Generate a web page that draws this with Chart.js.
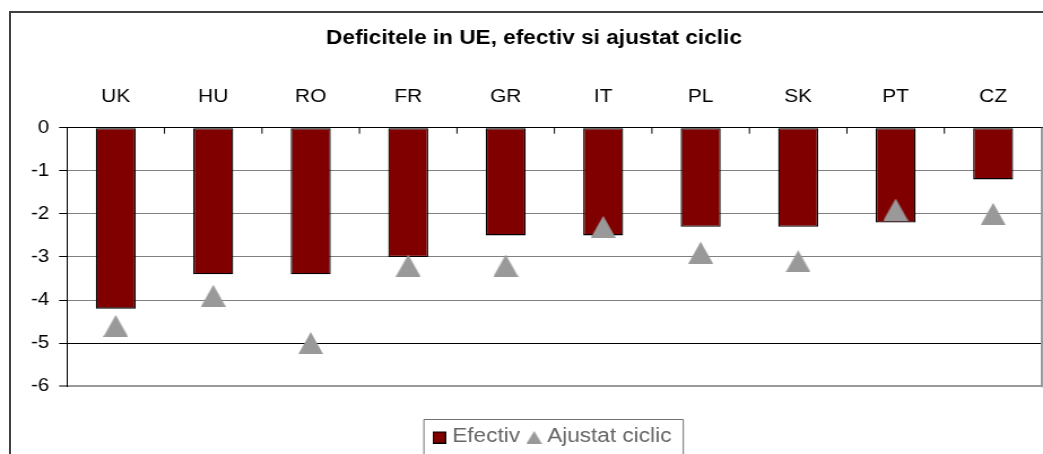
<!DOCTYPE html>
<html lang="ro">
<head>
<meta charset="UTF-8">
<title>Deficitele in UE</title>
<script src="https://cdn.jsdelivr.net/npm/chart.js"></script>
<style>
    html, body {
        margin: 0;
        padding: 0;
        background: #fff;
        width: 1043px;
        height: 454px;
        overflow: hidden;
    }
    /* outer chart frame, only its left and top edges are inside the picture */
    .frame {
        position: absolute;
        left: 9px;
        top: 11px;
        width: 1200px;
        height: 600px;
        border-left: 2px solid #404040;
        border-top: 2px solid #404040;
    }
    /* the original is slightly stretched sideways */
    .wrap {
        position: absolute;
        left: 0;
        top: 0;
        width: 945px;
        height: 456px;
        transform: scaleX(1.13);
        transform-origin: 0 0;
    }
</style>
</head>
<body>
<div class="frame"></div>
<div class="wrap"><canvas id="deficitChart"></canvas></div>

<script>
const countries = ['UK', 'HU', 'RO', 'FR', 'GR', 'IT', 'PL', 'SK', 'PT', 'CZ'];
const efectiv = [-4.2, -3.4, -3.4, -3.0, -2.5, -2.5, -2.3, -2.3, -2.2, -1.2];
const ajustatCiclic = [-4.6, -3.9, -5.0, -3.2, -3.2, -2.3, -2.9, -3.1, -1.9, -2.0];
const yTicks = [0, -1, -2, -3, -4, -5, -6];

const FONT = 'Liberation Sans, Arial, sans-serif';
const MAROON = '#800000';
const GREY = '#999999';

// triangle marker as a small canvas so it sits centred on the value like Excel's
function triangleImage(w, h, padTop) {
    const c = document.createElement('canvas');
    c.width = w;
    c.height = h + padTop;
    const g = c.getContext('2d');
    g.fillStyle = GREY;
    g.beginPath();
    g.moveTo(w / 2, padTop);
    g.lineTo(w, h + padTop);
    g.lineTo(0, h + padTop);
    g.closePath();
    g.fill();
    return c;
}

function squareImage(s, padTop) {
    const c = document.createElement('canvas');
    c.width = s;
    c.height = s + padTop;
    const g = c.getContext('2d');
    g.fillStyle = MAROON;
    g.fillRect(0, padTop, s, s);
    g.strokeStyle = '#000';
    g.lineWidth = 1;
    g.strokeRect(0.5, padTop + 0.5, s - 1, s - 1);
    return c;
}

const pointTriangle = triangleImage(22, 22, 0);
const legendTriangle = triangleImage(14, 13, 3);
const legendSquare = squareImage(12, 3);

// small ticks under the 0 axis, frame at right of plot, box round the legend
const plotExtras = {
    id: 'plotExtras',
    afterDraw(chart) {
        const {ctx, chartArea} = chart;
        const x = chart.scales.x;
        ctx.save();
        ctx.strokeStyle = '#000';
        ctx.lineWidth = 1;
        for (let i = 1; i < countries.length; i++) {
            const px = (x.getPixelForValue(i - 1) + x.getPixelForValue(i)) / 2;
            ctx.beginPath();
            ctx.moveTo(px, chartArea.top);
            ctx.lineTo(px, chartArea.top + 6);
            ctx.stroke();
        }

        ctx.strokeStyle = GREY;
        ctx.lineWidth = 2;
        ctx.beginPath();
        ctx.moveTo(chartArea.right, chartArea.top);
        ctx.lineTo(chartArea.right, chartArea.bottom + 1);
        ctx.stroke();

        const boxes = chart.legend.legendHitBoxes;
        if (boxes && boxes.length) {
            const first = boxes[0];
            const last = boxes[boxes.length - 1];
            const left = first.left - 12;
            const right = last.left + last.width + 10.5;
            const top = first.top - 6.5;
            ctx.strokeStyle = '#707070';
            ctx.lineWidth = 1;
            ctx.beginPath();
            ctx.moveTo(left, chart.height + 5);
            ctx.lineTo(left, top);
            ctx.lineTo(right, top);
            ctx.lineTo(right, chart.height + 5);
            ctx.stroke();
        }
        ctx.restore();
    }
};

const ctx = document.getElementById('deficitChart').getContext('2d');
new Chart(ctx, {
    type: 'bar',
    data: {
        labels: countries,
        datasets: [
            {
                label: 'Efectiv',
                data: efectiv,
                backgroundColor: MAROON,
                borderColor: '#000',
                borderWidth: 1.3,
                borderSkipped: false,
                barPercentage: 0.41,
                categoryPercentage: 1.0,
                order: 1
            },
            {
                type: 'line',
                label: 'Ajustat ciclic',
                data: ajustatCiclic,
                showLine: false,
                pointStyle: pointTriangle,
                pointRadius: 5,
                order: 0
            }
        ]
    },
    options: {
        responsive: true,
        maintainAspectRatio: false,
        animation: false,
        layout: { autoPadding: false, padding: { top: 0, right: 23, bottom: 0, left: 23.1 } },
        plugins: {
            tooltip: { enabled: false },
            title: {
                display: true,
                text: 'Deficitele in UE, efectiv si ajustat ciclic',
                color: '#000',
                font: { family: FONT, size: 20, weight: 'bold', lineHeight: 1.2 },
                padding: { top: 26.3, bottom: 15.4 }
            },
            legend: {
                position: 'bottom',
                fullSize: false,
                title: { display: true, text: '', padding: 0, font: { size: 24, lineHeight: 1.2 } },
                labels: {
                    usePointStyle: true,
                    pointStyleWidth: 3,
                    padding: 11,
                    color: '#000',
                    font: { family: FONT, size: 20 },
                    generateLabels: () => [
                        { text: 'Efectiv', pointStyle: legendSquare, fillStyle: MAROON, strokeStyle: '#000', lineWidth: 0, hidden: false, datasetIndex: 0 },
                        { text: 'Ajustat ciclic', pointStyle: legendTriangle, fillStyle: GREY, strokeStyle: GREY, lineWidth: 0, hidden: false, datasetIndex: 1 }
                    ]
                }
            }
        },
        scales: {
            x: {
                position: 'top',
                grid: { display: false, drawTicks: false },
                border: { display: true, color: '#000', width: 1 },
                ticks: {
                    color: '#000',
                    padding: 19.9,
                    font: { family: FONT, size: 18.5 }
                }
            },
            y: {
                min: -6,
                max: 0,
                afterBuildTicks: scale => { scale.ticks = yTicks.map(v => ({ value: v })); },
                afterFit: scale => { scale.width = 36.2; },
                border: { display: true, color: '#000', width: 1 },
                grid: {
                    color: c => {
                        const v = c.tick ? c.tick.value : null;
                        if (v === 0 || v === -5) return '#000';
                        if (v === -6) return GREY;
                        return '#808080';
                    },
                    lineWidth: c => (c.tick && c.tick.value === -6 ? 2 : 1),
                    tickColor: '#000',
                    tickWidth: 1,
                    tickLength: 7
                },
                ticks: {
                    color: '#000',
                    padding: 8.8,
                    font: { family: FONT, size: 18 }
                }
            }
        }
    },
    plugins: [plotExtras]
});
</script>
</body>
</html>
